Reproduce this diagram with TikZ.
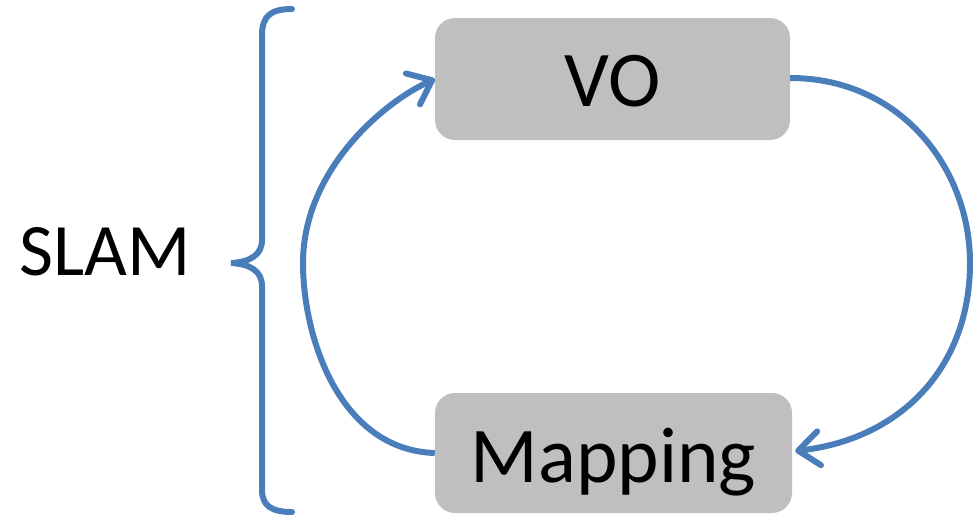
\documentclass[tikz,border=0pt]{standalone}
\usepackage{fontspec}
\setmainfont{Carlito}
\usetikzlibrary{arrows.meta}
\definecolor{lineblue}{HTML}{4A7EBB}
\definecolor{boxgray}{HTML}{BFBFBF}
\begin{document}
\begin{tikzpicture}[x=1pt,y=-1pt,
  box/.style={fill=boxgray,draw=none,rounded corners=20pt,inner sep=0pt,
    font=\fontsize{79}{90}\selectfont,text depth=0pt},
  conn/.style={draw=lineblue,line width=6pt,
    -{Straight Barb[length=21pt,width=34pt,line cap=round,line join=round]}},
  bracestyle/.style={draw=lineblue,line width=6pt,line cap=round}]
\useasboundingbox (0,0) rectangle (973,515);
\node[box,minimum width=355pt,minimum height=122pt,text height=54pt] (vo) at (612.5,79) {VO};
\node[box,minimum width=357pt,minimum height=120pt,text height=58pt] (map) at (613.5,453) {Mapping};
\node[anchor=base,inner sep=0pt,font=\fontsize{74}{88}\selectfont] (slam) at (105,275) {SLAM};
\coordinate (tip) at (231,263);
\draw[bracestyle] (292,9) .. controls (272,9) and (262,15) .. (262,35) -- (262,240)
  .. controls (262,255) and (250,262) .. (tip)
  .. controls (250,264) and (262,271) .. (262,286) -- (262,490)
  .. controls (262,506) and (272,512) .. (292,512);
\draw[conn] (map.west) .. controls +(-95,-3) and +(0,75) .. (303,263)
  .. controls +(0,-90) and +(-55,25) .. (vo.west);
\draw[conn] ([yshift=1pt]vo.east) .. controls +(110,0) and +(0,-95) .. (970,263)
  .. controls +(0,105) and +(105,-12) .. ([xshift=3pt,yshift=2pt]map.east);
\end{tikzpicture}
\end{document}
